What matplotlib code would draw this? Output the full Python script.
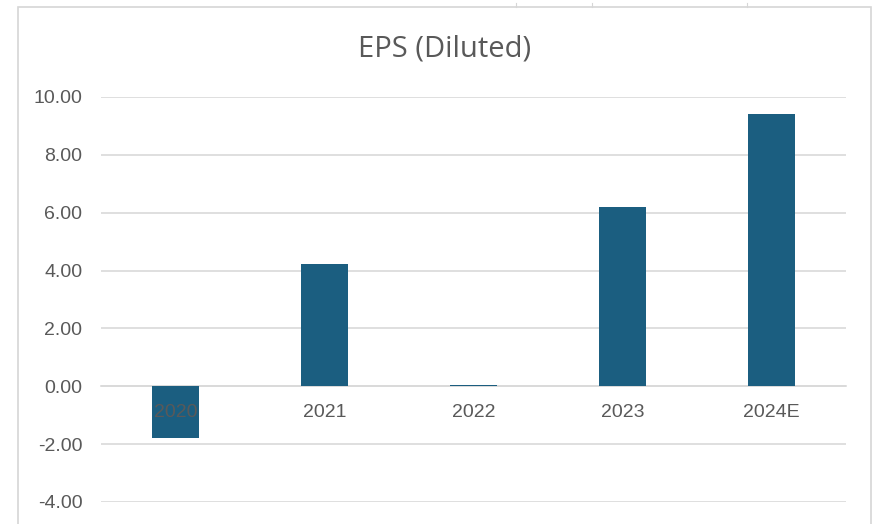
import matplotlib.pyplot as plt
from matplotlib.patches import Rectangle
from matplotlib.lines import Line2D

years = ['2020', '2021', '2022', '2023', '2024E']
eps = [-1.78, 4.22, 0.05, 6.21, 9.41]
y_ticks = [-4, -2, 0, 2, 4, 6, 8, 10]

bar_color = '#1b5e80'
grid_color = '#d9d9d9'
text_color = '#595959'

plt.rcParams['font.family'] = ['Liberation Sans', 'DejaVu Sans']

fig = plt.figure(figsize=(8.73, 5.24), dpi=100)
ax = fig.add_axes([0.1157, 0.042, 0.8533, 0.773])

x = range(len(years))
ax.bar(x, eps, width=0.31, color=bar_color, zorder=2)

ax.set_ylim(-4, 10)
ax.set_xlim(-0.5, len(years) - 0.5)
ax.set_yticks(y_ticks)
ax.set_yticklabels(['%.2f' % v for v in y_ticks])
ax.set_xticks(list(x))
ax.set_xticklabels(years)

ax.set_axisbelow(True)
ax.yaxis.grid(True, color=grid_color, linewidth=1.2)
ax.xaxis.set_zorder(3)  # year labels sit on top of the negative bar

for side in ['top', 'right', 'left']:
  ax.spines[side].set_visible(False)
ax.spines['bottom'].set_position(('data', 0))
ax.spines['bottom'].set_color(grid_color)
ax.spines['bottom'].set_linewidth(1.2)
ax.spines['bottom'].set_zorder(1)

ax.tick_params(axis='both', length=0, labelsize=14, labelcolor=text_color)
ax.tick_params(axis='y', pad=13.5)
ax.tick_params(axis='x', pad=13)

fig.text(0.509, 0.907, 'EPS (Diluted)', ha='center', va='center',
         fontsize=21, color=text_color, family=['Open Sans', 'DejaVu Sans'])

# chart frame and the sheet cell edges above it
fig.patches.append(Rectangle((18 / 873, -0.05), 853 / 873, 1.05 - 7 / 524,
                             transform=fig.transFigure, fill=False,
                             edgecolor='#d6d6d6', linewidth=1.2))
for cx in [516, 592, 747]:
  fig.lines.append(Line2D([cx / 873, cx / 873], [1 - 7 / 524, 1 - 3 / 524],
                          transform=fig.transFigure, color='#d6d6d6', linewidth=0.8))

fig.savefig('out.png', dpi=100)
